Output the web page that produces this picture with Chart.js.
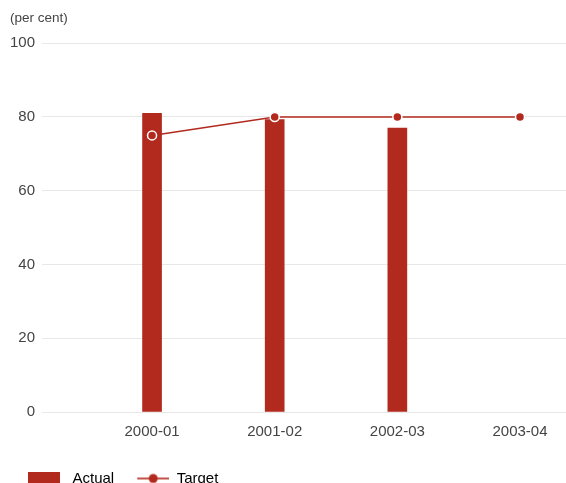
<!DOCTYPE html>
<html>
<head>
    <title>Actual vs Target</title>
    <script src="https://cdn.jsdelivr.net/npm/chart.js"></script>
    <style>
        body {
            margin: 0;
            background: #fff;
            overflow: hidden;
        }
        .chart-wrap {
            position: relative;
            width: 566px;
            height: 496px;
        }
    </style>
</head>
<body>

<div class="chart-wrap">
    <canvas id="targetChart"></canvas>
</div>

<script>
// financial years shown along the bottom
const years = ['2000-01', '2001-02', '2002-03', '2003-04'];
// per cent achieved (no figure yet for 2003-04)
const actual = [81, 79.3, 77, null];
// per cent target
const target = [75, 80, 80, 80];
const yTicks = [0, 20, 40, 60, 80, 100];

const red = '#b22a1d';
const textGrey = '#444';
const font = 'Liberation Sans, Arial, sans-serif';

// little legend swatches: a filled box and a line with a dot
function swatch(kind) {
    const c = document.createElement('canvas');
    c.width = 37;
    c.height = 14;
    const g = c.getContext('2d');
    g.fillStyle = red;
    if (kind === 'box') {
        g.fillRect(0, 0, 32, 14);
    } else {
        g.fillRect(5, 6.2, 32, 1.6);
        g.beginPath();
        g.arc(21, 7, 4.5, 0, Math.PI * 2);
        g.fill();
    }
    return c;
}

const ctx = document.getElementById('targetChart');
new Chart(ctx, {
    type: 'bar',
    data: {
        datasets: [{
            type: 'bar',
            label: 'Actual',
            data: years.map((y, i) => ({ x: i, y: actual[i] })),
            backgroundColor: red,
            barThickness: 19,
            order: 1
        }, {
            type: 'line',
            label: 'Target',
            data: years.map((y, i) => ({ x: i, y: target[i] })),
            borderColor: red,
            borderWidth: 1.5,
            pointRadius: 4.5,
            pointBackgroundColor: red,
            pointBorderColor: '#fff',
            pointBorderWidth: 1.5,
            tension: 0,
            clip: false,
            order: 0
        }]
    },
    options: {
        responsive: true,
        maintainAspectRatio: false,
        animation: false,
        layout: { autoPadding: false, padding: { left: 10, right: 0, top: 0, bottom: 0 } },
        scales: {
            x: {
                type: 'linear',
                offset: false,
                min: -0.897,
                max: 3.375,
                grid: { display: false },
                border: { display: false },
                afterBuildTicks(scale) {
                    scale.ticks = years.map((y, i) => ({ value: i }));
                },
                afterFit(scale) {
                    scale.height += 9;
                },
                ticks: {
                    padding: 3,
                    color: textGrey,
                    font: { family: font, size: 15 },
                    callback: (v) => years[v] || ''
                }
            },
            y: {
                min: 0,
                max: 100,
                afterBuildTicks(scale) {
                    scale.ticks = yTicks.map(v => ({ value: v }));
                },
                afterFit(scale) {
                    scale.width -= 7;
                },
                grid: { color: '#e8e8e8', lineWidth: 1, drawTicks: false },
                border: { display: false },
                ticks: {
                    padding: 7,
                    color: textGrey,
                    font: { family: font, size: 15 }
                }
            }
        },
        plugins: {
            title: {
                display: true,
                text: '(per cent)',
                align: 'start',
                color: textGrey,
                font: { family: font, size: 13.5, weight: 'normal' },
                padding: { top: 10, bottom: 17 }
            },
            legend: {
                position: 'bottom',
                align: 'start',
                labels: {
                    usePointStyle: true,
                    pointStyleWidth: 37,
                    boxHeight: 14,
                    padding: 18,
                    color: textGrey,
                    font: { family: font, size: 15 },
                    generateLabels(chart) {
                        return chart.data.datasets.map((ds, i) => ({
                            text: ds.label,
                            datasetIndex: i,
                            pointStyle: swatch(i === 0 ? 'box' : 'line'),
                            fillStyle: red,
                            strokeStyle: red,
                            lineWidth: 0,
                            hidden: false
                        }));
                    }
                }
            },
            tooltip: { enabled: false }
        }
    }
});
</script>

</body>
</html>
